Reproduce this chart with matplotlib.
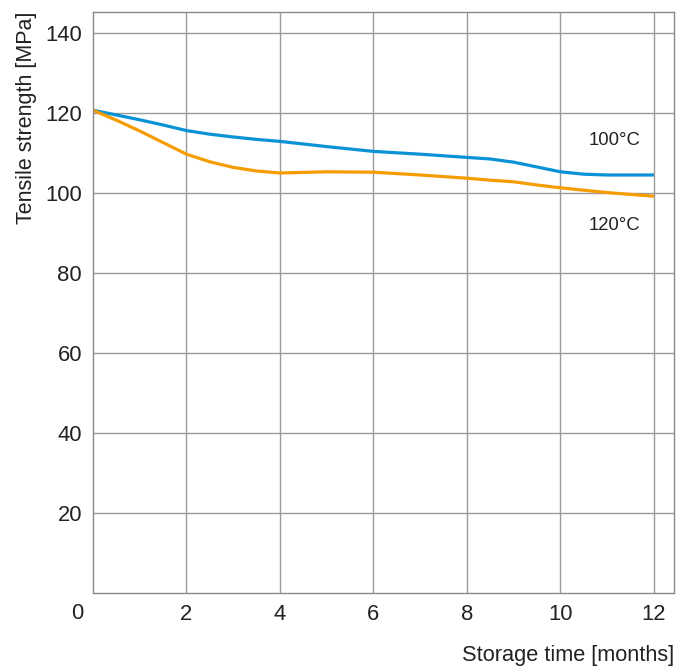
import matplotlib
matplotlib.use("Agg")
import matplotlib.pyplot as plt

# Storage time [months] and tensile strength [MPa]
months = [0, 0.5, 1, 1.5, 2, 2.5, 3, 3.5, 4, 5, 6, 7, 8, 8.5, 9, 9.5, 10, 10.5, 11, 12]
ts_100 = [120.7, 119.5, 118.3, 117.0, 115.6, 114.7, 114.0, 113.4, 112.9, 111.6, 110.4,
          109.7, 108.9, 108.5, 107.7, 106.5, 105.3, 104.7, 104.5, 104.5]
ts_120 = [120.7, 118.2, 115.5, 112.6, 109.7, 107.8, 106.4, 105.5, 105.0, 105.3, 105.2,
          104.5, 103.7, 103.2, 102.8, 102.0, 101.3, 100.7, 100.1, 99.2]
xticks = [2, 4, 6, 8, 10, 12]
yticks = [20, 40, 60, 80, 100, 120, 140]

plt.rcParams['font.family'] = ['Liberation Sans', 'DejaVu Sans']
txt = '#222222'

fig = plt.figure(figsize=(6.91, 6.66), dpi=100)
ax = fig.add_axes([0.1346, 0.1096, 0.8408, 0.8724])

ax.plot(months, ts_100, color='#0a92d6', lw=2.3, solid_capstyle='butt')
ax.plot(months, ts_120, color='#f59d00', lw=2.3, solid_capstyle='butt')

ax.set_xlim(0, 12.43)
ax.set_ylim(0, 145.25)
ax.set_xticks(xticks)
ax.set_yticks(yticks)
ax.grid(True, color='#9a9a9a', lw=1)
ax.tick_params(length=0, labelsize=15.8, colors=txt, pad=8)
for s in ax.spines.values():
    s.set_color('#8a8a8a')
    s.set_linewidth(1)

# shared origin label
ax.annotate('0', xy=(0, 0), xytext=(-11.5, -7), textcoords='offset points',
            ha='center', va='top', fontsize=15.8, color=txt)

ax.text(10.6, 113.2, '100°C', fontsize=13.3, color=txt, va='center')
ax.text(10.6, 91.8, '120°C', fontsize=13.3, color=txt, va='center')

ax.set_ylabel('Tensile strength [MPa]', fontsize=15.5, color=txt, loc='top', labelpad=6)
ax.set_xlabel('Storage time [months]', fontsize=15.7, color=txt, loc='right', labelpad=14)

fig.savefig('out.png', dpi=100)
